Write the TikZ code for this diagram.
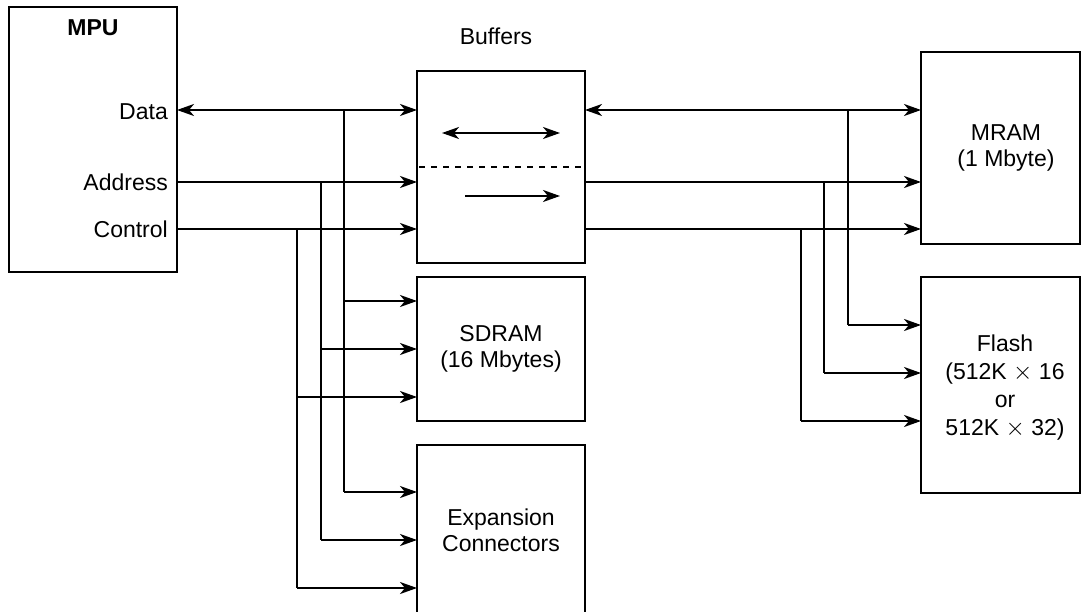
\documentclass[tikz,border=0pt]{standalone}
\usepackage{fontspec}
\setmainfont{Liberation Sans}
\usetikzlibrary{arrows.meta}
\begin{document}
\begin{tikzpicture}[x=1pt,y=-1pt,
  blk/.style={draw,line width=2pt},
  bus/.style={line width=2pt,-{Stealth[length=17pt,width=12pt,inset=5pt]}},
  bibus/.style={line width=2pt,{Stealth[length=17pt,width=12pt,inset=5pt]}-{Stealth[length=17pt,width=12pt,inset=5pt]}},
  wire/.style={line width=2pt},
  lbl/.style={font=\fontsize{23}{26}\selectfont,align=center,inner sep=0pt}]
\useasboundingbox (0,0) rectangle (1081,612);
% blocks
\draw[blk] (9,7) rectangle (177,272);
\draw[blk] (417,71) rectangle (585,263);
\draw[blk] (417,277) rectangle (585,421);
\draw[blk] (417,640) -- (417,445) -- (585,445) -- (585,640);
\draw[blk] (921,52) rectangle (1080,244);
\draw[blk] (921,277) rectangle (1080,493);
% texts
\node[lbl,font=\fontsize{23}{26}\selectfont\bfseries] (mpu) at (93,28) {MPU};
\node[lbl,anchor=east] (dataL) at (168,112) {Data};
\node[lbl,anchor=east] (addrL) at (168,182) {Address};
\node[lbl,anchor=east] (ctrlL) at (168,229) {Control};
\node[lbl] (buf) at (496,36) {Buffers};
\node[lbl] (sdram) at (501,349) {SDRAM\\(16 Mbytes)};
\node[lbl] (exp) at (501,530) {Expansion\\Connectors};
\node[lbl] (mram) at (1006,148) {MRAM\\(1 Mbyte)};
\node[lbl,font=\fontsize{23}{28}\selectfont] (flash) at (1005,388) {Flash\\(512K $\times$ 16\\or\\512K $\times$ 32)};
% coordinates
\coordinate (mD) at (177,110);
\coordinate (mA) at (177,182);
\coordinate (mC) at (177,229);
\coordinate (bDi) at (417,110);
\coordinate (bAi) at (417,182);
\coordinate (bCi) at (417,229);
\coordinate (bDo) at (585,110);
\coordinate (bAo) at (585,182);
\coordinate (bCo) at (585,229);
\coordinate (rD) at (921,110);
\coordinate (rA) at (921,182);
\coordinate (rC) at (921,229);
% left buses
\draw[bibus] (mD) -- (bDi);
\draw[bus] (mA) -- (bAi);
\draw[bus] (mC) -- (bCi);
\draw[wire] (344,110) -- (344,492);
\draw[wire] (321,182) -- (321,540);
\draw[wire] (297,229) -- (297,588);
\draw[bus] (344,301) -- (417,301);
\draw[bus] (321,349) -- (417,349);
\draw[bus] (297,397) -- (417,397);
\draw[bus] (344,492) -- (417,492);
\draw[bus] (321,540) -- (417,540);
\draw[bus] (297,588) -- (417,588);
% inside buffers
\draw[bibus] (442,133) -- (560,133);
\draw[bus] (465,196) -- (560,196);
\draw[line width=2pt,dash pattern=on 6pt off 6pt] (419,167) -- (585,167);
% right buses
\draw[bibus] (bDo) -- (rD);
\draw[bus] (bAo) -- (rA);
\draw[bus] (bCo) -- (rC);
\draw[wire] (848,110) -- (848,325);
\draw[wire] (824,182) -- (824,373);
\draw[wire] (801,229) -- (801,421);
\draw[bus] (848,325) -- (921,325);
\draw[bus] (824,373) -- (921,373);
\draw[bus] (801,421) -- (921,421);
\end{tikzpicture}
\end{document}
